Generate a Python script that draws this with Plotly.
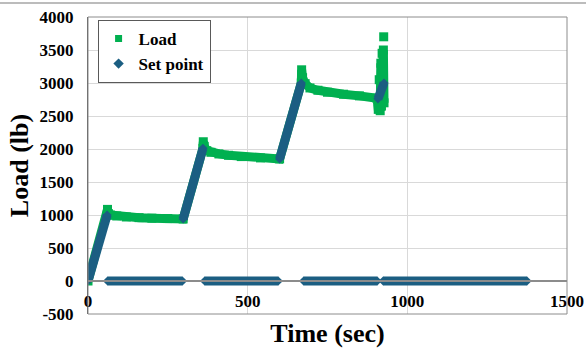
import plotly.graph_objects as go

# Measured load (lb) against time (sec)
load_time = [0, 60, 61, 64, 70, 90, 120, 160, 200, 250, 298,
             360, 361, 364, 372, 385, 410, 440, 480, 540, 600,
             668, 669, 672, 680, 695, 720, 750, 800, 850, 905,
             909, 912, 915, 917, 919, 921, 923, 925, 927, None, 926]
load_value = [0, 1000, 1085, 1020, 1000, 985, 970, 960, 952, 946, 940,
              2010, 2110, 2040, 1975, 1950, 1925, 1905, 1885, 1865, 1850,
              3000, 3200, 3080, 2990, 2925, 2890, 2860, 2830, 2805, 2770,
              2600, 3050, 2580, 3300, 2650, 3450, 2900, 3500, 2700, None, 3700]

# Commanded set point (lb); recorded as zero while holding
set_time = [0, 60, None, 61, 296, None, 298, 360, None, 365, 596, None,
            600, 668, None, 675, 906, None, 924, 1375, None, 908, 927]
set_value = [0, 1000, None, 0, 0, None, 940, 2010, None, 0, 0, None,
             1850, 3000, None, 0, 0, None, 0, 0, None, 2760, 3000]

x_ticks = [0, 500, 1000, 1500]
y_ticks = [-500, 0, 500, 1000, 1500, 2000, 2500, 3000, 3500, 4000]

GREEN = "#00b050"
BLUE = "#1b5e82"
SERIF = "Liberation Serif"

fig = go.Figure()

fig.add_trace(go.Scatter(
    x=load_time, y=load_value, mode="lines+markers",
    line=dict(color=GREEN, width=9),
    marker=dict(symbol="square", size=9, color=GREEN),
    showlegend=False, connectgaps=False,
))
fig.add_trace(go.Scatter(
    x=set_time, y=set_value, mode="lines+markers",
    line=dict(color=BLUE, width=9),
    marker=dict(symbol="diamond", size=7, color=BLUE),
    showlegend=False, connectgaps=False,
))

# legend entries
fig.add_trace(go.Scatter(
    x=[None], y=[None], mode="markers", name="Load",
    marker=dict(symbol="square", size=7, color=GREEN),
))
fig.add_trace(go.Scatter(
    x=[None], y=[None], mode="markers", name="Set point",
    marker=dict(symbol="diamond", size=8, color=BLUE),
))

fig.update_layout(
    width=586, height=348,
    margin=dict(l=88, r=19, t=17, b=34),
    paper_bgcolor="white", plot_bgcolor="white",
    font=dict(family=SERIF, size=17, color="black", weight="bold"),
    xaxis=dict(
        range=[0, 1500], tickvals=x_ticks, ticktext=[str(v) for v in x_ticks],
        anchor="free", position=1 / 9,
        showline=True, linecolor="#8c8c8c", linewidth=1.5,
        showgrid=True, gridcolor="#d9d9d9", gridwidth=1,
        zeroline=False, ticks="", ticklabelstandoff=5,
        tickfont=dict(family=SERIF, size=17, weight="bold"),
        title=dict(text="Time (sec)", standoff=14,
                   font=dict(family=SERIF, size=26, weight="bold")),
        automargin=False,
    ),
    yaxis=dict(
        range=[-500, 4000], tickvals=y_ticks, ticktext=[str(v) for v in y_ticks],
        showline=True, linecolor="#595959", linewidth=1,
        showgrid=True, gridcolor="#d9d9d9", gridwidth=1,
        zeroline=False, ticks="", ticklabelstandoff=10,
        tickfont=dict(family=SERIF, size=17, weight="bold"),
        title=dict(text="Load (lb)", standoff=3,
                   font=dict(family=SERIF, size=26, weight="bold")),
        automargin=False,
    ),
    legend=dict(
        x=0.02, y=0.99, xanchor="left", yanchor="top",
        bgcolor="white", bordercolor="#595959", borderwidth=1,
        font=dict(family=SERIF, size=17, weight="bold"),
        itemwidth=30, tracegroupgap=0,
    ),
    shapes=[
        dict(type="rect", xref="paper", yref="paper", x0=0, x1=1, y0=0, y1=1,
             line=dict(color="#8c8c8c", width=1), layer="above"),
        dict(type="line", xref="paper", yref="paper",
             x0=-88 / 479, x1=1 + 19 / 479, y0=1 + 14 / 297, y1=1 + 14 / 297,
             line=dict(color="#a6a6a6", width=1.5)),
    ],
)

fig.write_html("out.html")
